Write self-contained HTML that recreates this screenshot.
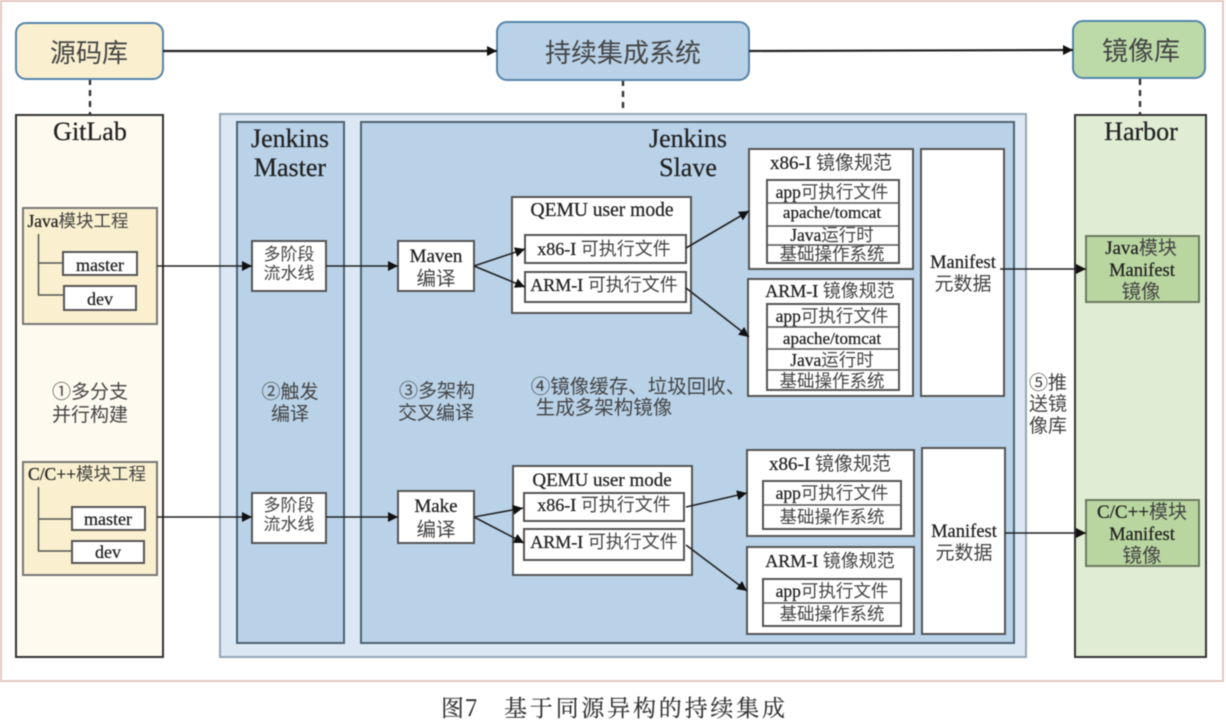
<!DOCTYPE html>
<html><head><meta charset="utf-8"><style>
html,body{margin:0;padding:0;background:#fff;width:1226px;height:720px;overflow:hidden}
svg{display:block;filter:blur(.45px)}
text{font-family:"Liberation Serif","Noto Sans CJK SC",sans-serif;fill:#222;text-anchor:middle;stroke:#222;stroke-width:.25}
.s{font-family:"Noto Sans CJK SC",sans-serif;fill:#444;stroke:none}
.w{fill:#fff;stroke:#555;stroke-width:2}
.a{stroke:#222;stroke-width:1.6;fill:none;marker-end:url(#m)}
.d{stroke:#333;stroke-width:2.4;stroke-dasharray:6 5;fill:none}
.t{stroke:#555;stroke-width:1.5;fill:none}
.c{font-family:"Noto Serif CJK SC",serif;fill:#333;stroke:#333;stroke-width:.2;text-anchor:start}
</style></head><body>
<svg width="1226" height="720" viewBox="0 0 1226 720" xmlns="http://www.w3.org/2000/svg">
<defs><marker id="m" markerUnits="userSpaceOnUse" markerWidth="11" markerHeight="10" refX="10" refY="5" orient="auto"><path d="M0 0L10 5L0 10Z" fill="#111"/></marker></defs>
<rect x="1" y="1" width="1222" height="680" fill="#fff" stroke="#e3c9c0" stroke-width="2"/>

<!-- dashed -->
<path class="d" d="M90 79V115M623 80V114M1140 79V115"/>

<!-- top row -->
<rect x="16" y="23" width="147" height="56" rx="10" fill="#faf0cf" stroke="#5584ab" stroke-width="2"/>
<text class="s" x="89" y="62" font-size="26">源码库</text>
<rect x="497" y="22" width="252" height="58" rx="10" fill="#b9d2e8" stroke="#5584ab" stroke-width="2"/>
<text class="s" x="623" y="62" font-size="26">持续集成系统</text>
<rect x="1073" y="21" width="132" height="57" rx="10" fill="#bcdaa8" stroke="#5584ab" stroke-width="2"/>
<text class="s" x="1141" y="60" font-size="26">镜像库</text>

<!-- columns -->
<rect x="16" y="115" width="147" height="542" fill="#fefaf0" stroke="#333" stroke-width="2"/>
<text x="90" y="140" font-size="26">GitLab</text>
<rect x="1075" y="115" width="131" height="542" fill="#e0edd4" stroke="#333" stroke-width="2"/>
<text x="1141" y="140" font-size="26">Harbor</text>
<rect x="220" y="114" width="806" height="543" fill="#dbe8f4" stroke="#93a6b5" stroke-width="2"/>
<rect x="237" y="122" width="107" height="521" fill="#b9d2e8" stroke="#4d6272" stroke-width="2"/>
<text x="290" y="147" font-size="26">Jenkins</text>
<text x="290" y="176" font-size="26">Master</text>
<rect x="361" y="122" width="653" height="521" fill="#b9d2e8" stroke="#4d6272" stroke-width="2"/>
<text x="688" y="147" font-size="26">Jenkins</text>
<text x="688" y="176" font-size="26">Slave</text>

<!-- Java project -->
<rect x="23" y="208" width="134" height="116" fill="#faf0cf" stroke="#777" stroke-width="2"/>
<text x="78" y="227" font-size="17.500">Java<tspan class="s">模块工程</tspan></text>
<path class="t" d="M38.500 234V295H64M38.500 263H64"/>
<rect class="w" x="63" y="252" width="74" height="23"/>
<text x="100" y="271" font-size="18">master</text>
<rect class="w" x="64" y="286" width="72" height="24"/>
<text x="100" y="305" font-size="18">dev</text>

<text class="s" x="90" y="398" font-size="19">①多分支</text>
<text class="s" x="90" y="421" font-size="19">并行构建</text>

<!-- C++ project -->
<rect x="23" y="462" width="134" height="113" fill="#faf0cf" stroke="#777" stroke-width="2"/>
<text x="87" y="480" font-size="17.500">C/C++<tspan class="s">模块工程</tspan></text>
<path class="t" d="M38.500 487V551H72M38.500 519H72"/>
<rect class="w" x="72" y="507" width="73" height="23"/>
<text x="108" y="525" font-size="18">master</text>
<rect class="w" x="72" y="541" width="72" height="22"/>
<text x="108" y="558" font-size="18">dev</text>

<!-- pipelines -->
<rect class="w" x="252" y="241" width="74" height="50"/>
<text class="s" x="289" y="260" font-size="17">多阶段</text>
<text class="s" x="289" y="279" font-size="17">流水线</text>
<rect class="w" x="252" y="493" width="74" height="50"/>
<text class="s" x="289" y="511" font-size="17">多阶段</text>
<text class="s" x="289" y="530" font-size="17">流水线</text>
<text class="s" x="290" y="398" font-size="19">②触发</text>
<text class="s" x="290" y="420" font-size="19">编译</text>

<!-- compile -->
<rect class="w" x="398" y="241" width="76" height="50"/>
<text x="436" y="262" font-size="19">Maven</text>
<text class="s" x="436" y="285" font-size="19.500">编译</text>
<rect class="w" x="398" y="491" width="76" height="52"/>
<text x="436" y="512" font-size="19">Make</text>
<text class="s" x="436" y="536" font-size="19.500">编译</text>
<text class="s" x="437" y="397" font-size="19">③多架构</text>
<text class="s" x="436" y="419" font-size="19">交叉编译</text>
<text class="s" x="638" y="393" font-size="19.500">④镜像缓存、垃圾回收、</text>
<text class="s" x="604" y="414" font-size="19.500">生成多架构镜像</text>

<!-- QEMU 1 -->
<rect class="w" x="512" y="197" width="179" height="116"/>
<text x="602" y="216" font-size="19.500">QEMU user mode</text>
<rect class="w" x="525" y="235" width="161" height="28"/>
<text x="604" y="255" font-size="18">x86-I <tspan class="s">可执行文件</tspan></text>
<rect class="w" x="525" y="272" width="161" height="30"/>
<text x="604" y="291" font-size="18">ARM-I <tspan class="s">可执行文件</tspan></text>

<!-- QEMU 2 -->
<rect class="w" x="513" y="466" width="179" height="109"/>
<text x="602" y="486" font-size="19">QEMU user mode</text>
<rect class="w" x="524" y="493" width="160" height="28"/>
<text x="604" y="511" font-size="18">x86-I <tspan class="s">可执行文件</tspan></text>
<rect class="w" x="524" y="529" width="160" height="31"/>
<text x="604" y="548" font-size="18">ARM-I <tspan class="s">可执行文件</tspan></text>

<!-- Spec 1 -->
<rect class="w" x="749" y="149" width="164" height="120"/>
<text x="831" y="169" font-size="19">x86-I <tspan class="s">镜像规范</tspan></text>
<rect class="w" x="767" y="180" width="132" height="83"/>
<path class="t" d="M767 203H899M767 226H899M767 245H899"/>
<text x="832" y="198" font-size="17.500">app<tspan class="s">可执行文件</tspan></text>
<text x="832" y="218" font-size="17">apache/tomcat</text>
<text x="832" y="241" font-size="17.500">Java<tspan class="s">运行时</tspan></text>
<text class="s" x="832" y="260" font-size="17.500">基础操作系统</text>

<!-- Spec 2 -->
<rect class="w" x="748" y="279" width="165" height="117"/>
<text x="830" y="297" font-size="18">ARM-I <tspan class="s">镜像规范</tspan></text>
<rect class="w" x="767" y="304" width="132" height="86"/>
<path class="t" d="M767 327H899M767 349H899M767 370H899"/>
<text x="832" y="322" font-size="17.500">app<tspan class="s">可执行文件</tspan></text>
<text x="832" y="344" font-size="17">apache/tomcat</text>
<text x="832" y="366" font-size="17.500">Java<tspan class="s">运行时</tspan></text>
<text class="s" x="832" y="387" font-size="17.500">基础操作系统</text>

<!-- Spec 3 -->
<rect class="w" x="747" y="450" width="167" height="86"/>
<text x="830" y="470" font-size="19">x86-I <tspan class="s">镜像规范</tspan></text>
<rect class="w" x="763" y="481" width="138" height="48"/>
<path class="t" d="M763 505H901"/>
<text x="832" y="499" font-size="17.500">app<tspan class="s">可执行文件</tspan></text>
<text class="s" x="832" y="523" font-size="17.500">基础操作系统</text>

<!-- Spec 4 -->
<rect class="w" x="747" y="547" width="167" height="87"/>
<text x="830" y="567" font-size="18">ARM-I <tspan class="s">镜像规范</tspan></text>
<rect class="w" x="763" y="579" width="138" height="47"/>
<path class="t" d="M763 603H901"/>
<text x="832" y="597" font-size="17.500">app<tspan class="s">可执行文件</tspan></text>
<text class="s" x="832" y="620" font-size="17.500">基础操作系统</text>

<!-- Manifest -->
<rect class="w" x="921" y="149" width="83" height="247"/>
<text x="963" y="268" font-size="18.500">Manifest</text>
<text class="s" x="963" y="290" font-size="19">元数据</text>
<rect class="w" x="922" y="448" width="83" height="186"/>
<text x="964" y="537" font-size="18.500">Manifest</text>
<text class="s" x="964" y="559" font-size="19">元数据</text>

<!-- Push -->
<text class="s" x="1048" y="389" font-size="19">⑤推</text>
<text class="s" x="1048" y="410" font-size="19">送镜</text>
<text class="s" x="1048" y="432" font-size="19">像库</text>

<!-- Harbor images -->
<rect x="1086" y="236" width="113" height="66" fill="#b9d6a0" stroke="#6b7a60" stroke-width="2"/>
<text x="1141" y="254" font-size="19">Java<tspan class="s">模块</tspan></text>
<text x="1142" y="276" font-size="18.500">Manifest</text>
<text class="s" x="1141" y="298" font-size="19.500">镜像</text>
<rect x="1086" y="500" width="113" height="66" fill="#b9d6a0" stroke="#6b7a60" stroke-width="2"/>
<text x="1142" y="518" font-size="19">C/C++<tspan class="s">模块</tspan></text>
<text x="1142" y="540" font-size="18.500">Manifest</text>
<text class="s" x="1142" y="562" font-size="19.500">镜像</text>

<!-- arrows -->
<path class="a" d="M163 51H497" style="stroke-width:2.2"/>
<path class="a" d="M749 51L1073 50" style="stroke-width:2.2"/>
<path class="a" d="M157 266H252"/>
<path class="a" d="M326 266H398"/>
<path class="a" d="M157 517H252"/>
<path class="a" d="M326 517H398"/>
<path class="a" d="M474 266L525 249"/>
<path class="a" d="M474 266L525 287"/>
<path class="a" d="M474 517L523 508"/>
<path class="a" d="M474 517L524 543"/>
<path class="a" d="M686 248L749 211"/>
<path class="a" d="M686 288L749 337"/>
<path class="a" d="M686 507L747 493"/>
<path class="a" d="M686 545L747 591"/>
<path class="a" d="M1000 269H1086"/>
<path class="a" d="M1005 533H1086"/>

<!-- caption -->
<text class="c" x="441" y="716" font-size="23" style="letter-spacing:1px">图7</text>
<text class="c" x="504" y="716" font-size="23" style="letter-spacing:2.800px">基于同源异构的持续集成</text>
</svg>
</body></html>
